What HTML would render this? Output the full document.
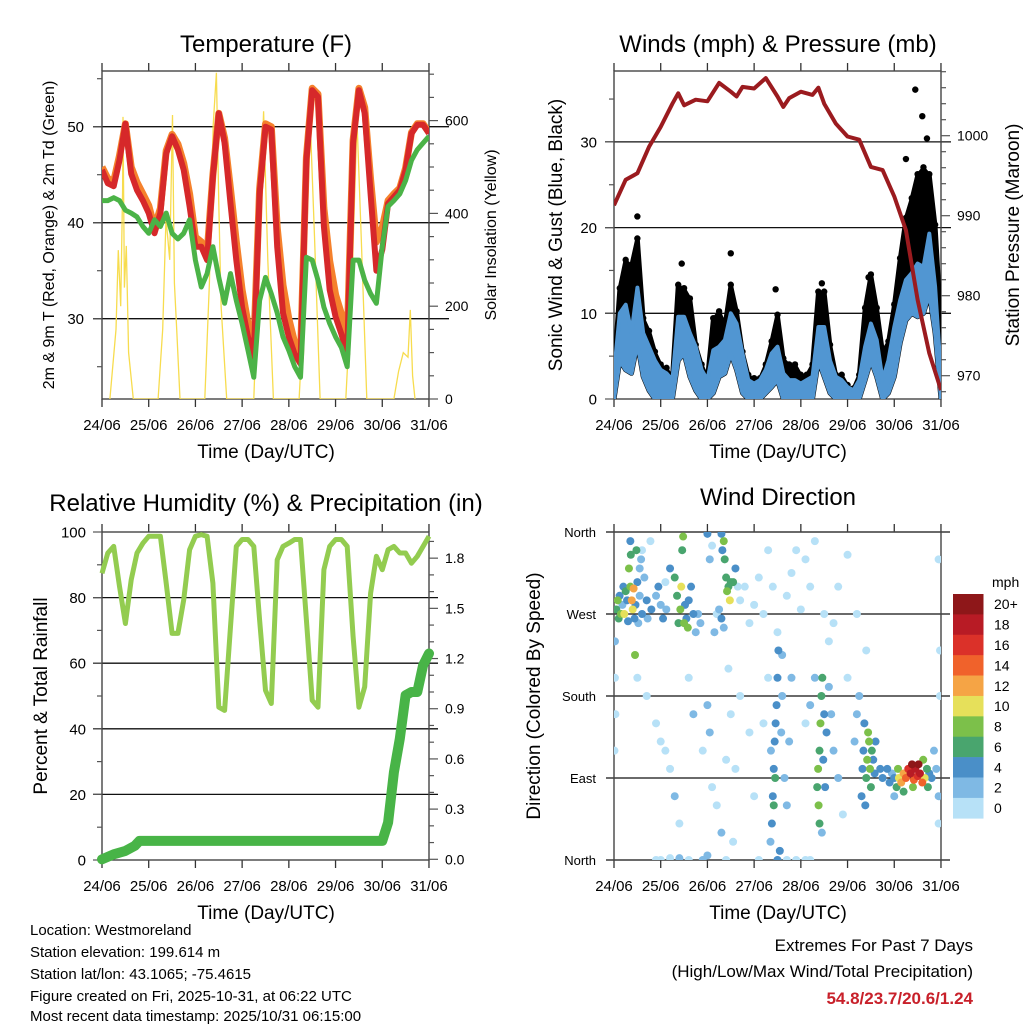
<!DOCTYPE html>
<html><head><meta charset="utf-8">
<style>
html,body{margin:0;padding:0;background:#fff;}
svg{display:block;font-family:"Liberation Sans",sans-serif;}
</style></head>
<body>
<svg id="chart" width="1024" height="1024" viewBox="0 0 1024 1024" xmlns="http://www.w3.org/2000/svg">
<rect x="0" y="0" width="1024" height="1024" fill="#fff"/>
<g id="layer"></g>
<g font-size="24" text-anchor="middle" fill="#000">
<text x="266" y="52">Temperature (F)</text>
<text x="778" y="52">Winds (mph) &amp; Pressure (mb)</text>
<text x="266" y="511">Relative Humidity (%) &amp; Precipitation (in)</text>
<text x="778" y="505">Wind Direction</text>
</g>
<g font-size="19" text-anchor="middle">
<text x="266" y="458">Time (Day/UTC)</text>
<text x="778" y="458">Time (Day/UTC)</text>
<text x="266" y="919">Time (Day/UTC)</text>
<text x="778" y="919">Time (Day/UTC)</text>
<text transform="translate(562,235) rotate(-90)">Sonic Wind &amp; Gust (Blue, Black)</text>
<text transform="translate(1019,235) rotate(-90)">Station Pressure (Maroon)</text>
<text transform="translate(47,696) rotate(-90)">Percent &amp; Total Rainfall</text>
<text transform="translate(540,696) rotate(-90)">Direction (Colored By Speed)</text>
</g>
<g font-size="16" text-anchor="middle">
<text transform="translate(54,235) rotate(-90)">2m &amp; 9m T (Red, Orange) &amp; 2m Td (Green)</text>
<text transform="translate(496,235) rotate(-90)">Solar Insolation (Yellow)</text>
</g>
<g font-size="15">
<text x="30" y="935">Location: Westmoreland</text>
<text x="30" y="957">Station elevation: 199.614 m</text>
<text x="30" y="979">Station lat/lon: 43.1065; -75.4615</text>
<text x="30" y="1001">Figure created on Fri, 2025-10-31, at 06:22 UTC</text>
<text x="30" y="1021">Most recent data timestamp: 2025/10/31 06:15:00</text>
</g>
<g font-size="17" text-anchor="end">
<text x="973" y="951">Extremes For Past 7 Days</text>
<text x="973" y="977">(High/Low/Max Wind/Total Precipitation)</text>
<text x="973" y="1004" font-weight="bold" fill="#c8202a">54.8/23.7/20.6/1.24</text>
</g>
</svg>
<script>
// ---- data (3-hour steps from 24/06 00Z) ----
const dayLabels = ["24/06","25/06","26/06","27/06","28/06","29/06","30/06","31/06"];
const temp9m = [45.5,44.1,43.8,46.5,50.3,45.1,43.4,42.3,41.0,38.9,41.0,47.2,49.0,47.6,45.5,41.7,37.5,37.5,36.1,44.8,51.4,48.3,42.0,36.1,31.2,28.1,26.0,43.0,50.0,49.7,37.5,30.6,28.1,26.3,25.3,46.5,53.8,53.1,39.6,33.0,30.2,28.4,26.3,48.3,53.8,51.4,43.0,35.0,37.2,42.0,42.7,43.4,45.5,49.3,50.2,50.2,49.3];
const temp2m = [45.8,44.6,44.3,47.0,50.3,45.8,44.2,43.0,41.8,39.5,41.5,47.5,49.2,48.2,46.2,43.0,38.5,38.0,36.8,45.0,51.4,48.8,43.5,38.0,33.0,29.5,27.2,43.5,50.3,50.0,39.5,33.5,30.0,27.5,26.0,46.8,54.0,53.4,41.5,36.0,32.5,30.5,27.8,48.6,54.0,52.0,44.5,38.0,39.5,42.3,43.0,43.6,45.7,49.4,50.3,50.3,49.4];
const dewpt = [42.3,42.3,42.6,42.3,41.3,41.0,40.6,39.6,38.9,40.3,39.6,41.0,38.9,38.3,38.9,40.3,36.1,33.3,34.7,37.5,34.3,31.6,34.7,31.9,29.5,26.7,23.9,31.9,34.3,32.6,30.6,28.1,26.7,25.0,23.9,36.4,36.1,34.0,31.2,29.5,28.1,27.0,25.0,36.1,36.1,34.0,32.6,31.6,37.5,41.7,42.3,43.0,44.4,46.5,47.6,48.3,49.0];
const solarDay = [0.17,0.30,0.35,0.40,0.44,0.45,0.48,0.52,0.57,0.67,1.20,1.30,1.37,1.45,1.51,1.55,1.60,1.67,2.20,2.30,2.38,2.45,2.50,2.55,2.67,3.25,3.32,3.46,3.55,3.67,4.22,4.35,4.46,4.55,4.67,5.22,5.35,5.46,5.55,5.67,6.25,6.35,6.45,6.55,6.60,6.65,6.70];
const solarVal = [0,150,321,200,450,608,240,330,100,0,0,150,390,300,612,250,150,0,0,250,590,703,420,200,0,0,200,620,300,0,0,250,595,350,0,0,250,600,350,0,0,60,100,90,192,50,0];
const pressDay = [0,0.25,0.5,0.75,1.0,1.25,1.375,1.5,1.75,2.0,2.25,2.5,2.625,2.75,3.0,3.25,3.5,3.625,3.75,4.0,4.25,4.375,4.5,4.75,5.0,5.25,5.5,5.75,6.0,6.25,6.5,6.75,7.0];
const pressure = [991.3,994.5,995.3,998.6,1001.1,1004.0,1005.3,1003.8,1004.5,1004.3,1006.6,1005.5,1004.9,1006.1,1005.9,1007.2,1004.9,1003.6,1004.7,1005.5,1005.1,1006.0,1004.0,1001.5,999.9,999.5,996.1,995.7,992.4,988.2,979.5,972.8,968.2];
const windHi = [3,10,11,7.7,13,7.7,6.1,4.5,3.4,3,2.2,9.6,9.6,7.7,6.1,3.4,2.2,5.7,6.1,6.9,10,8.8,5.3,2.2,1.8,2.2,3.4,5.3,6.1,3,2.2,2.2,1.8,2.2,2.6,8.4,8.4,4.5,2.6,2.2,1.4,1,2.2,6.1,8.8,6.9,2.2,4.5,8.4,11.5,13.9,14.7,15.8,15.4,19.3,13.1,2.6];
const windLo = [0,4.5,3.4,3,6.5,2.6,1,0,0,0,0,4.5,5.3,2.6,1,0,0,0.7,2.6,3,5.3,3.4,0.7,0,0,0,0.7,1.4,2.2,0,0,0,0,0,0,4.5,2.6,0.7,0,0,0,0,0,2.2,4.5,2.6,0,0.7,2.6,6.5,9.2,10,9.6,10,12.3,7.7,0];
const gust = [3,12.7,16,15.4,18.5,9.2,7.7,5.3,3.8,3.4,2.2,13.1,12.7,11.5,6.1,3.8,2.2,9.2,10,8.4,13.1,10,5.3,2.6,2.2,2.2,3.8,6.5,9.6,4.5,3.8,3.8,2.6,2.6,3.8,12.3,12.3,6.1,2.6,2.6,1.4,1,2.6,10.4,14.3,10.4,5.3,6.5,10.8,16.2,20.9,23.2,26,26.8,26,20.1,8.4];
const gustPeakDay = [0.5,1.45,2.5,3.46,4.45,5.45,6.45,6.6,6.25,6.7];
const gustPeakVal = [21.3,15.8,17.0,12.8,13.5,14.2,36.1,33.0,28.0,30.4];
const rh = [87.4,93.6,95.6,83.4,72.1,85.4,93.6,96.6,98.7,98.7,98.7,84.4,69.1,69.1,79.3,94.6,98.7,99.2,98.7,84.4,46.6,45.6,71.1,95.6,97.7,97.7,95.6,73.2,51.7,47.7,91.5,95.6,96.6,97.7,97.7,73.2,48.7,46.6,88.5,95.6,97.7,97.7,95.6,68.1,46.6,52.8,81.3,92.6,88.5,94.6,95.6,93.6,93.6,90.5,92.6,95.6,98.7];
const rainDay = [0,0.25,0.5,0.7,0.8,6.0,6.125,6.25,6.375,6.5,6.625,6.75,6.875,7.0];
const rainIn = [0,0.03,0.05,0.08,0.11,0.11,0.22,0.52,0.72,0.98,1.0,1.0,1.16,1.23];
const dirDay = [0.05,0.08,0.1,0.12,0.15,0.18,0.2,0.22,0.25,0.28,0.3,0.32,0.35,0.36,0.38,0.4,0.42,0.44,0.46,0.5,0.52,0.55,0.58,0.6,0.65,0.7,0.72,0.78,0.8,0.02,0.02,0.03,0.01,0.48,0.45,0.35,0.55,0.6,
1.2,1.3,1.35,1.38,1.42,1.44,1.46,1.48,1.5,1.52,1.55,1.58,1.6,1.65,1.7,1.75,1.0,1.05,0.95,0.9,1.1,1.12,1.8,1.85,
2.3,2.32,2.35,2.37,2.4,2.42,2.45,2.48,2.5,2.55,2.6,2.65,2.7,2.3,2.35,2.0,2.05,2.1,2.2,2.15,2.25,
2.8,2.9,3.0,3.1,3.2,3.3,3.4,3.5,3.6,3.7,3.8,3.9,4.0,4.1,4.2,4.3,4.5,4.6,4.7,4.8,5.0,5.2,5.4,
0.5,0.7,0.9,1.0,1.1,1.2,1.3,1.4,1.6,1.7,1.9,2.0,2.05,2.1,2.2,2.3,2.4,2.45,2.5,2.55,2.6,2.7,2.9,3.0,3.2,3.3,
0.9,1.0,1.2,1.6,1.9,2.0,3.1,3.5,3.7,3.9,4.1,4.2,2.4,1.4,
3.35,3.38,3.4,3.42,3.44,3.46,3.48,3.5,3.52,3.45,3.42,3.36,3.55,3.5,3.6,3.58,3.65,3.7,3.75,3.8,
4.35,4.37,4.38,4.4,4.42,4.44,4.46,4.48,4.5,4.52,4.55,4.4,4.45,4.6,4.65,4.7,4.8,4.9,5.0,4.2,4.3,4.1,
5.3,5.32,5.34,5.36,5.38,5.4,5.42,5.44,5.46,5.48,5.5,5.52,5.55,5.58,5.6,5.2,5.25,5.15,5.7,5.75,
5.85,5.9,5.95,6.0,6.05,6.08,6.1,6.15,6.2,6.25,6.3,6.35,6.38,6.42,6.45,6.5,6.52,6.55,6.6,6.62,6.65,6.7,6.72,6.75,6.8,6.85,6.9,6.95,6.4,6.2,6.0,
6.98,6.98,6.95,6.95];
const dirDeg = [275,285,265,290,270,280,300,270,295,285,262,320,300,335,285,275,298,265,280,305,260,290,330,270,310,285,265,350,275,240,200,160,120,340,225,350,320,340,
320,310,290,260,275,300,340,355,260,280,265,255,285,300,270,250,280,265,300,290,305,275,270,260,
358,340,350,330,310,295,300,285,305,305,320,300,285,265,255,358,330,345,270,250,275,
300,260,280,310,270,340,300,250,225,290,315,340,275,330,300,350,270,240,260,300,335,270,230,
200,180,150,130,120,100,70,40,200,160,120,170,140,80,60,30,110,210,160,20,100,180,140,70,150,200,
0,0,2,0,0,5,0,0,0,0,0,0,0,2,
20,40,70,100,130,150,170,200,230,90,60,120,10,0,180,140,90,60,130,200,
80,100,60,120,150,180,200,110,160,80,140,40,30,190,160,120,90,50,200,170,200,150,
70,100,120,150,60,90,110,140,130,100,80,120,110,95,130,160,180,130,100,90,
100,85,95,90,80,100,90,85,95,90,100,95,105,88,100,92,105,95,85,110,90,100,80,95,90,120,100,70,80,75,70,
230,180,330,40];
const dirSpd = [6,8,6,4,8,2,4,10,6,4,4,8,8,6,12,10,12,4,4,4,2,2,2,4,2,4,2,0,4,2,0,0,0,6,8,4,2,0,
4,6,6,6,8,10,6,8,8,4,4,8,4,4,4,2,2,4,4,2,0,2,2,2,
4,4,8,6,6,8,6,10,6,6,4,0,0,4,2,4,2,0,0,2,2,
0,0,0,0,0,0,0,0,2,0,0,0,0,0,0,0,0,0,0,0,0,0,0,
0,0,0,0,0,0,2,0,0,2,0,2,2,0,0,2,0,0,0,0,0,0,0,0,0,0,
0,0,0,0,2,2,0,0,0,0,0,0,0,2,
2,4,4,4,4,4,4,4,4,6,6,2,4,4,2,2,2,2,2,2,
6,8,8,6,8,6,6,4,4,4,4,6,2,2,2,2,2,0,0,2,2,0,
4,4,4,4,4,6,8,8,8,8,6,6,4,4,4,2,2,2,4,4,
4,4,2,4,6,8,10,12,12,14,16,18,20,14,18,16,20,18,14,8,10,6,6,4,4,2,2,2,8,6,2,
0,0,0,0];
const speedBins = ["0","2","4","6","8","10","12","14","16","18","20+"];
const speedColors = ["#b7e1f7","#7fb9e4","#4a8fc8","#49a56e","#7cc04a","#e6e05a","#f5a445","#f0622b","#db3129","#b81b25","#8e1719"];

// ---- helpers ----
const NS = "http://www.w3.org/2000/svg";
const layer = document.getElementById("layer");
function mk(tag, attrs, parent){
  const e = document.createElementNS(NS, tag);
  for (const k in attrs) e.setAttribute(k, attrs[k]);
  (parent || layer).appendChild(e);
  return e;
}
const DAYW = 46.71;
function xScale(x0){ return d => x0 + d*DAYW; }
const P1 = {x0:102,x1:429,y0:71,y1:399};
const P2 = {x0:614,x1:941,y0:71,y1:399};
const P3 = {x0:102,x1:429,y0:532,y1:860};
const P4 = {x0:614,x1:941,y0:532,y1:860};
const STEP = 0.125;
const tempY = v => 126.7 + (50 - v)*9.6;
const solarY = v => 399 - v*0.464;
const windY = v => 399 - v*8.57;
const presY = p => 135.7 + (1000 - p)*8;
const rhY = v => 860 - v*3.28;
const inY = v => 859.3 - v*167.3;
const dirY = d => 860 - d*328/360;

function clip(P, id){
  const cp = mk("clipPath", {id:id});
  mk("rect", {x:P.x0, y:P.y0, width:P.x1-P.x0, height:P.y1-P.y0}, cp);
  return "url(#"+id+")";
}
function frame(P, name, gridVals, gridY, gx0, gx1){
  const g = mk("g", {});
  
  
  gridVals.forEach(v => {
    const l = mk("line", {x1:gx0, x2:gx1, y1:gridY(v), y2:gridY(v), stroke:"#111", "stroke-width":1.3}, g);
    
    
  });
  const X = xScale(P.x0);
  dayLabels.forEach((lab, i) => {
    const x = X(i);
    mk("line", {x1:x, x2:x, y1:P.y1, y2:P.y1+8, stroke:"#333", "stroke-width":1.3}, g);
    mk("line", {x1:x, x2:x, y1:P.y0, y2:P.y0-8, stroke:"#333", "stroke-width":1.3}, g);
    const t = mk("text", {x:x, y:P.y1+31, "font-size":15, "text-anchor":"middle"}, g);
    t.textContent = lab;
    
    
  });
  const r = mk("rect", {x:P.x0, y:P.y0, width:P.x1-P.x0, height:P.y1-P.y0, fill:"none", stroke:"#444", "stroke-width":1.4}, g);
  
  
  return g;
}
function leftAxis(P, name, ticks, yf, labels, lx){
  ticks.forEach(v => {
    const maj = labels.indexOf(v) >= 0;
    mk("line", {x1:P.x0-(maj?9:5), x2:P.x0, y1:yf(v), y2:yf(v), stroke:"#555", "stroke-width":1.2});
  });
  labels.forEach(v => {
    const t = mk("text", {x:lx, y:yf(v)+5.5, "font-size":15, "text-anchor":"end"});
    t.textContent = v;
    
    
  });
}
function rightAxis(P, name, ticks, majors, yf, labels, fmt){
  ticks.forEach(v => {
    const maj = majors.indexOf(v) >= 0;
    mk("line", {x1:P.x1, x2:P.x1+(maj?9:5), y1:yf(v), y2:yf(v), stroke:"#555", "stroke-width":1.2});
  });
  labels.forEach(v => {
    const t = mk("text", {x:P.x1+16, y:yf(v)+5, "font-size":14}); 
    t.textContent = fmt(v);
    
    
  });
}
function pathFrom(xs, ys){
  return xs.map((x,i) => (i?"L":"M") + x.toFixed(1) + "," + ys[i].toFixed(1)).join("");
}
function range(a,b,s){ const r=[]; for(let v=a; v<=b+1e-9; v+=s) r.push(+v.toFixed(3)); return r; }

// ---- Panel 1: temperature ----
(function(){
  const X = xScale(P1.x0);
  frame(P1, "temperature", [50,40,30], tempY, P1.x0-9, P1.x1+20);
  leftAxis(P1, "temperature", [55,50,45,40,35,30,25], tempY, [50,40,30], 84);
  rightAxis(P1, "solar", range(0,700,50), [0,200,400,600], solarY, [0,200,400,600], v=>v);
  const c = clip(P1, "c1");
  const g = mk("g", {"clip-path":c});
  
  
  const sx = solarDay.map(d => X(d)), sy = solarVal.map(v => solarY(v));
  const s = mk("path", {d:pathFrom(sx, sy), fill:"none", stroke:"#f7dc4e", "stroke-width":1.3}, g);
  
  
  const tx = temp2m.map((v,i) => X(i*STEP));
  const o = mk("path", {d:pathFrom(tx, temp2m.map(tempY)), fill:"none", stroke:"#f5812c", "stroke-width":7, "stroke-linejoin":"round"}, g);
  
  
  const r = mk("path", {d:pathFrom(tx, temp9m.map(tempY)), fill:"none", stroke:"#d6282a", "stroke-width":6, "stroke-linejoin":"round"}, g);
  
  
  const dw = mk("path", {d:pathFrom(tx, dewpt.map(tempY)), fill:"none", stroke:"#4bb347", "stroke-width":5, "stroke-linejoin":"round"}, g);
  
  
})();

// ---- Panel 2: winds & pressure ----
(function(){
  const X = xScale(P2.x0);
  frame(P2, "winds", [30,20,10], windY, P2.x0-9, P2.x1+10);
  leftAxis(P2, "winds", [35,30,25,20,15,10,5,0], windY, [30,20,10,0], 597);
  rightAxis(P2, "pressure", range(968,1008,2), [970,980,990,1000], presY, [970,980,990,1000], v=>v);
  const c = clip(P2, "c2");
  const g = mk("g", {"clip-path":c});
  
  
  const wx = gust.map((v,i) => X(i*STEP));
  const gp = wx.map((x,i)=>[x,windY(gust[i])]).concat(wx.map((x,i)=>[x,windY(windLo[i])]).reverse());
  const gb = mk("polygon", {points:gp.map(p=>p[0].toFixed(1)+","+p[1].toFixed(1)).join(" "), fill:"#000", stroke:"#000", "stroke-width":5, "stroke-linejoin":"round"}, g);
  
  
  gust.forEach((v,i) => {
    const d = mk("circle", {cx:wx[i], cy:windY(v)-2, r:3.2, fill:"#000"}, g);
    
    
  });
  gustPeakDay.forEach((d,i) => {
    const p = mk("circle", {cx:X(d), cy:windY(gustPeakVal[i]), r:3.2, fill:"#000"}, g);
    
    
  });
  const bp = wx.map((x,i)=>[x,windY(windHi[i])]).concat(wx.map((x,i)=>[x,windY(windLo[i])]).reverse());
  const bb = mk("polygon", {points:bp.map(p=>p[0].toFixed(1)+","+p[1].toFixed(1)).join(" "), fill:"#5196d2", stroke:"#5196d2", "stroke-width":4, "stroke-linejoin":"round"}, g);
  
  
  const pr = mk("path", {d:pathFrom(pressDay.map(X), pressure.map(presY)), fill:"none", stroke:"#9b1b1f", "stroke-width":4, "stroke-linejoin":"round"}, g);
  
  
})();

// ---- Panel 3: humidity & precipitation ----
(function(){
  const X = xScale(P3.x0);
  frame(P3, "humidity", [80,60,40,20], rhY, P3.x0-9, P3.x1+9);
  leftAxis(P3, "humidity", range(0,100,10), rhY, [100,80,60,40,20,0], 86);
  rightAxis(P3, "precip", range(0,1.9,0.1), [0,0.3,0.6,0.9,1.2,1.5,1.8], inY, [0,0.3,0.6,0.9,1.2,1.5,1.8], v=>v.toFixed(1));
  const g = mk("g", {});
  
  
  const hx = rh.map((v,i) => X(i*STEP));
  const l = mk("path", {d:pathFrom(hx, rh.map(rhY)), fill:"none", stroke:"#93cc50", "stroke-width":5, "stroke-linejoin":"round"}, g);
  
  
  const p = mk("path", {d:pathFrom(rainDay.map(X), rainIn.map(inY)), fill:"none", stroke:"#48b447", "stroke-width":10, "stroke-linejoin":"round", "stroke-linecap":"round"}, g);
  
  
})();

// ---- Panel 4: wind direction ----
(function(){
  const X = xScale(P4.x0);
  frame(P4, "direction", [0,90,180,270,360], dirY, P4.x0-8, P4.x1+9);
  const names = ["North","East","South","West","North"];
  [0,90,180,270,360].forEach((v,i) => {
    const t = mk("text", {x:596, y:dirY(v)+5, "font-size":13, "text-anchor":"end"});
    t.textContent = names[i];
    
    
  });
  const c = clip(P4, "c4");
  const g = mk("g", {"clip-path":c});
  
  
  const order = dirSpd.map((s,i)=>i).sort((a,b)=>dirSpd[a]-dirSpd[b]);
  order.forEach(i => {
    const bin = Math.min(10, Math.round(dirSpd[i]/2));
    const d = mk("circle", {cx:X(dirDay[i]), cy:dirY(dirDeg[i]), r:4, fill:speedColors[bin]}, g);
    
    
  });
  const lg = mk("g", {});
  
  
  const mph = mk("text", {x:992, y:587, "font-size":14}, lg);
  mph.textContent = "mph";
  
  
  const bh = (818.3-594)/speedBins.length;
  speedBins.forEach((lab,i) => {
    const idx = speedBins.length-1-i;
    const y = 594 + i*bh;
    const r = mk("rect", {x:953, y:y, width:30.5, height:bh+0.3, fill:speedColors[idx]}, lg);
    
    
    const t = mk("text", {x:994, y:y+bh/2+5, "font-size":14}, lg);
    t.textContent = speedBins[idx];
    
    
  });
})();
</script>
</body></html>
